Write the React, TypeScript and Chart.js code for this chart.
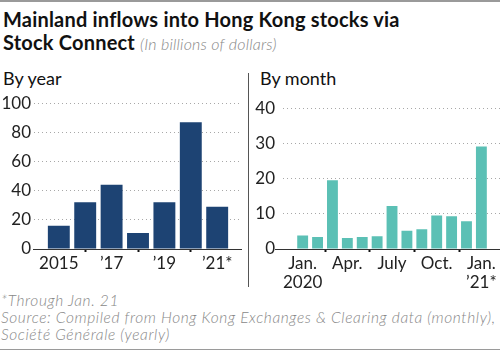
import React, { useEffect, useRef } from "react";
import { Chart, registerables } from "chart.js";

Chart.register(...registerables);

// ---- Data ----
const yearCategories = ["2015", "2016", "2017", "2018", "2019", "2020", "2021*"];
const yearValues = [16, 32, 44, 11, 32, 87, 29];
const yearTickIndex = [0, 2, 4, 6];
const yearTickText = ["2015", "\u201917", "\u201919", "\u201921*"];
const yearAxisTicks = [0, 20, 40, 60, 80, 100];

const monthCategories = [
  "Jan 2020", "Feb", "Mar", "Apr", "May", "Jun", "Jul", "Aug", "Sep", "Oct", "Nov", "Dec", "Jan 2021*",
];
const monthValues = [3.8, 3.4, 19.5, 3.1, 3.4, 3.6, 12.2, 5.2, 5.6, 9.5, 9.3, 7.9, 29.1];
const monthTickIndex = [0, 3, 6, 9, 12];
const monthTickText: (string | string[])[] = [["Jan.", "2020"], "Apr.", "July", "Oct.", ["Jan.", "\u201921*"]];
const monthAxisTicks = [0, 10, 20, 30, 40];

const FONT = "Lato, 'Noto Sans', sans-serif";

function makeBaselinePlugin(ext: number) {
  return {
    id: "baseline",
    afterDatasetsDraw(chart: any) {
      const { ctx, chartArea, scales } = chart;
      const y = Math.round(scales.y.getPixelForValue(0)) + 0.5;
      ctx.save();
      ctx.strokeStyle = "#333";
      ctx.lineWidth = 1;
      ctx.beginPath();
      ctx.moveTo(chartArea.left - ext, y);
      ctx.lineTo(chartArea.right, y);
      ctx.stroke();
      ctx.restore();
    },
  };
}

function buildConfig(opts: {
  values: number[];
  categories: string[];
  color: string;
  xMin: number;
  xMax: number;
  barPct: number;
  tickIndex: number[];
  tickText: (string | string[])[];
  yTicks: number[];
  yWidth: number;
  yPad: number;
  ext: number;
}): any {
  return {
    type: "bar",
    data: {
      datasets: [
        {
          label: "Inflows",
          data: opts.values.map((v, i) => ({ x: i, y: v, c: opts.categories[i] })),
          backgroundColor: opts.color,
          borderWidth: 0,
          categoryPercentage: 1,
          barPercentage: opts.barPct,
        },
      ],
    },
    options: {
      animation: false,
      responsive: false,
      maintainAspectRatio: false,
      layout: { padding: { top: 12, right: 0, left: 0, bottom: 0 } },
      plugins: { legend: { display: false }, tooltip: { enabled: false } },
      scales: {
        x: {
          type: "linear",
          offset: false,
          min: opts.xMin,
          max: opts.xMax,
          afterBuildTicks: (scale: any) => {
            scale.ticks = opts.tickIndex.map((v) => ({ value: v }));
          },
          afterFit: (scale: any) => {
            scale.height = 41;
          },
          ticks: {
            autoSkip: false,
            maxRotation: 0,
            minRotation: 0,
            padding: 2,
            color: "#222",
            font: { family: FONT, size: 17, lineHeight: 1.12 },
            callback: (value: number) => {
              const k = opts.tickIndex.indexOf(value);
              return k >= 0 ? opts.tickText[k] : "";
            },
          },
          grid: {
            display: true,
            drawOnChartArea: false,
            drawTicks: true,
            tickLength: 3,
            tickWidth: 2,
            tickColor: "#111",
            color: "#111",
          },
          border: { display: false },
        },
        y: {
          min: 0,
          max: opts.yTicks[opts.yTicks.length - 1],
          afterBuildTicks: (scale: any) => {
            scale.ticks = opts.yTicks.map((v) => ({ value: v }));
          },
          afterFit: (scale: any) => {
            scale.width = opts.yWidth;
          },
          ticks: {
            padding: opts.yPad,
            color: "#222",
            font: { family: FONT, size: 17 },
          },
          grid: {
            drawTicks: false,
            color: (ctx: any) => (ctx.tick && ctx.tick.value === 0 ? "rgba(0,0,0,0)" : "#a8a8a8"),
            lineWidth: 1,
            borderDash: [1, 3],
          },
          border: { display: false, dash: [1, 3] },
        },
      },
    },
    plugins: [makeBaselinePlugin(opts.ext)],
  };
}

function BarPanel(props: { config: any; width: number; height: number; style: React.CSSProperties }) {
  const ref = useRef<HTMLCanvasElement | null>(null);
  useEffect(() => {
    if (!ref.current) return;
    const chart = new Chart(ref.current, props.config);
    return () => chart.destroy();
  }, []);
  return (
    <canvas
      ref={ref}
      width={props.width}
      height={props.height}
      style={{ position: "absolute", width: props.width, height: props.height, ...props.style }}
    />
  );
}

export default function App() {
  const yearConfig = buildConfig({
    values: yearValues,
    categories: yearCategories,
    color: "#1d4373",
    xMin: -0.94,
    xMax: 6.94,
    barPct: 0.83,
    tickIndex: yearTickIndex,
    tickText: yearTickText,
    yTicks: yearAxisTicks,
    yWidth: 34,
    yPad: 3,
    ext: 1,
  });
  const monthConfig = buildConfig({
    values: monthValues,
    categories: monthCategories,
    color: "#5bc0b5",
    xMin: -1.32,
    xMax: 13.25,
    barPct: 0.73,
    tickIndex: monthTickIndex,
    tickText: monthTickText,
    yTicks: monthAxisTicks,
    yWidth: 33,
    yPad: 8,
    ext: 8,
  });

  return (
    <div
      style={{
        position: "fixed",
        left: 0,
        top: 0,
        width: 500,
        height: 352,
        background: "#fff",
        overflow: "hidden",
        fontFamily: FONT,
      }}
    >
      <div style={{ position: "absolute", left: 0, top: 0, width: 500, height: 2, background: "#9a9a9a" }} />
      <div
        style={{
          position: "absolute",
          left: 3,
          top: 8,
          width: 497,
          fontSize: 20,
          lineHeight: "23px",
          letterSpacing: "0.2px",
          fontWeight: 700,
          color: "#111",
          whiteSpace: "nowrap",
        }}
      >
        <div>Mainland inflows into Hong Kong stocks via</div>
        <div>
          Stock Connect{" "}
          <span style={{ fontWeight: 300, fontStyle: "italic", fontSize: 16, letterSpacing: "0.2px", color: "#888" }}>
            (In billions of dollars)
          </span>
        </div>
      </div>
      <div style={{ position: "absolute", left: 3, top: 67, fontSize: 18, color: "#111" }}>By year</div>
      <div style={{ position: "absolute", left: 260, top: 67, fontSize: 18, color: "#111" }}>By month</div>
      <div style={{ position: "absolute", left: 248, top: 73, width: 1, height: 214, background: "#555" }} />
      <BarPanel config={yearConfig} width={242} height={200} style={{ left: 0, top: 90 }} />
      <BarPanel config={monthConfig} width={250} height={200} style={{ left: 250, top: 90 }} />
      <div
        style={{
          position: "absolute",
          left: 1,
          top: 292,
          fontSize: 15.5,
          lineHeight: "17px",
          letterSpacing: "0.6px",
          fontStyle: "italic",
          fontWeight: 300,
          color: "#888",
          whiteSpace: "nowrap",
        }}
      >
        <div>*Through Jan. 21</div>
        <div>Source: Compiled from Hong Kong Exchanges &amp; Clearing data (monthly),</div>
        <div>Soci&eacute;t&eacute; G&eacute;n&eacute;rale (yearly)</div>
      </div>
      <div style={{ position: "absolute", left: 0, top: 349, width: 500, height: 1, background: "#9a9a9a" }} />
    </div>
  );
}
